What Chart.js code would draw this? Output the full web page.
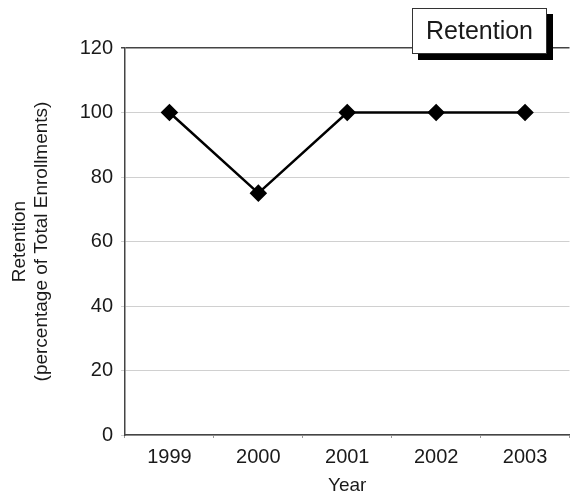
<!DOCTYPE html>
<html>
<head>
<meta charset="utf-8">
<script src="https://cdn.jsdelivr.net/npm/chart.js@4/dist/chart.umd.min.js"></script>
<style>
  html, body { margin: 0; padding: 0; background: #fff; }
  #wrap { width: 579px; height: 497px; position: relative; }
</style>
</head>
<body>
<div id="wrap"><canvas id="c" width="579" height="497"></canvas></div>
<script>
// Retention rate by enrollment year
const years = ['1999', '2000', '2001', '2002', '2003'];
const retention = [100, 75, 100, 100, 100];
const yTicks = [0, 20, 40, 60, 80, 100, 120];
const chartTitle = 'Retention';
const yTitle = ['Retention', '(percentage of Total Enrollments)'];
const xTitle = 'Year';

const FONT = '"Liberation Sans", Arial, Helvetica, sans-serif';
const INK = '#1a1a1a';

// Boxed title with a drop shadow, sitting over the top edge of the plot
const boxedTitle = {
  id: 'boxedTitle',
  afterDraw(chart) {
    const ctx = chart.ctx;
    const x = 412, y = 8, w = 135, h = 46, off = 6;
    ctx.save();
    ctx.fillStyle = '#000';
    ctx.fillRect(x + off, y + off, w, h);
    ctx.fillStyle = '#fff';
    ctx.fillRect(x, y, w, h);
    ctx.strokeStyle = '#333';
    ctx.lineWidth = 1;
    ctx.strokeRect(x + 0.5, y + 0.5, w - 1, h - 1);
    ctx.fillStyle = INK;
    ctx.font = '25px ' + FONT;
    ctx.textAlign = 'center';
    ctx.textBaseline = 'middle';
    ctx.fillText(chartTitle, x + w / 2, y + h / 2 + 1);
    ctx.restore();
  }
};

new Chart(document.getElementById('c'), {
  type: 'line',
  data: {
    labels: years,
    datasets: [{
      data: retention,
      borderColor: '#000',
      backgroundColor: '#000',
      borderWidth: 2.5,
      pointStyle: 'rectRot',
      pointRadius: 7,
      pointHoverRadius: 7,
      tension: 0,
      fill: false
    }]
  },
  options: {
    responsive: false,
    animation: false,
    events: [],
    layout: { padding: { top: 48, right: 1, left: 0, bottom: 0 } },
    plugins: {
      legend: { display: false },
      tooltip: { enabled: false }
    },
    scales: {
      x: {
        offset: true,
        grid: {
          display: true,
          offset: true,
          drawOnChartArea: false,
          drawTicks: true,
          tickLength: 3,
          color: '#999'
        },
        border: { display: true, color: '#444', width: 1.5 },
        ticks: { color: INK, font: { family: FONT, size: 20 }, padding: 7 },
        title: {
          display: true,
          text: xTitle,
          color: INK,
          font: { family: FONT, size: 19 },
          padding: { top: 2, bottom: 0 }
        },
        afterFit(scale) { scale.height = 62; }
      },
      y: {
        min: 0,
        max: 120,
        afterBuildTicks(scale) { scale.ticks = yTicks.map(v => ({ value: v })); },
        grid: {
          color: ctx => (ctx.tick && ctx.tick.value === 120) ? '#444' : '#d0d0d0',
          lineWidth: ctx => (ctx.tick && ctx.tick.value === 120) ? 1.5 : 1,
          drawTicks: true,
          tickLength: 4
        },
        border: { display: true, color: '#444', width: 1.5 },
        ticks: { color: INK, font: { family: FONT, size: 20 }, padding: 8 },
        title: {
          display: true,
          text: yTitle,
          color: INK,
          font: { family: FONT, size: 19, lineHeight: 1.15 },
          padding: { top: 9, bottom: 0 }
        },
        afterFit(scale) { scale.width = 125; }
      }
    }
  },
  plugins: [boxedTitle]
});
</script>
</body>
</html>
